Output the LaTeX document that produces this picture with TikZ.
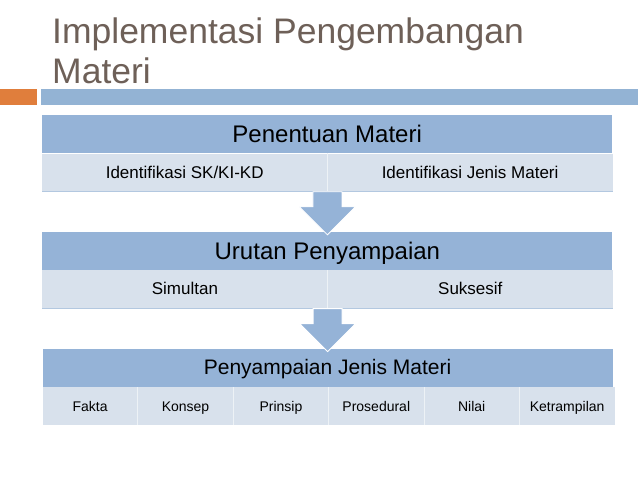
\documentclass[tikz,border=0pt]{standalone}
\usepackage{fontspec}
\setmainfont{Liberation Sans}
\usepackage{tikz}
\usetikzlibrary{positioning,calc}
\usepackage{xcolor}
\definecolor{headblue}{HTML}{95B3D7}
\definecolor{subblue}{HTML}{D8E1EC}
\definecolor{titlegray}{HTML}{6E6058}
\definecolor{barorange}{HTML}{E07E3C}
\definecolor{barblue}{HTML}{93B3D4}

\begin{document}
\begin{tikzpicture}[
x=1pt,y=-1pt,
titletext/.style={anchor=base west,inner sep=0,text=titlegray,font=\fontsize{35.5}{40}\selectfont},
head/.style={rectangle,fill=headblue,minimum width=570pt,minimum height=38pt,inner sep=0,text height=17pt,text depth=1pt,font=\fontsize{24}{28}\selectfont},
cell/.style={rectangle,fill=subblue,minimum height=38pt,inner sep=0,text height=12pt,text depth=1pt,font=\fontsize{17}{20}\selectfont},
half/.style={cell,minimum width=285pt},
sixth/.style={cell,minimum width=95pt,text height=11pt,font=\fontsize{14}{17}\selectfont},
sep/.style={draw=white!55!subblue,line width=0.8pt},
edge/.style={draw=headblue!55!subblue,line width=0.7pt},
blockarr/.style={fill=headblue,draw=white,line width=0.8pt}
]
\useasboundingbox (0,0) rectangle (638,479);

% title and bars
\node[titletext] (title) at (52,43) {Implementasi Pengembangan};
\node[titletext] (title2) at ([yshift=-40pt]title.base west) {Materi};
\fill[barorange] (0,89) rectangle (37,105);
\fill[barblue] (41,89) rectangle (638,105);

% first block
\node[head,anchor=north west] (penentuan) at (42,115) {Penentuan Materi};
\node[half,below right=0pt and 0pt of penentuan.south west] (skkikd) {Identifikasi SK/KI-KD};
\node[half,right=0pt of skkikd] (jenis) {Identifikasi Jenis Materi};
\draw[sep] (skkikd.north east) -- (skkikd.south east);
\draw[edge] (skkikd.south west) -- (jenis.south east);

% second block
\node[head,below=40pt of skkikd.south east] (urutan) {Urutan Penyampaian};
\node[half,below right=0pt and 0pt of urutan.south west] (simultan) {Simultan};
\node[half,right=0pt of simultan] (suksesif) {Suksesif};
\draw[sep] (simultan.north east) -- (simultan.south east);
\draw[edge] (simultan.south west) -- (suksesif.south east);

% third block
\node[head,below=40pt of simultan.south east,text height=15pt,font=\fontsize{21}{25}\selectfont] (penyampaian) {Penyampaian Jenis Materi};
\node[sixth,below right=0pt and 0pt of penyampaian.south west] (fakta) {Fakta};
\node[sixth,right=0pt of fakta] (konsep) {Konsep};
\node[sixth,right=0pt of konsep] (prinsip) {Prinsip};
\node[sixth,right=0pt of prinsip] (prosedural) {Prosedural};
\node[sixth,right=0pt of prosedural] (nilai) {Nilai};
\node[sixth,right=0pt of nilai] (ketrampilan) {Ketrampilan};
\foreach \c in {fakta,konsep,prinsip,prosedural,nilai}
  \draw[sep] (\c.north east) -- (\c.south east);

% block arrows between the blocks
\foreach \a/\b in {skkikd/urutan,simultan/penyampaian}
  \filldraw[blockarr] let \p1=(\a.south east), \p2=(\b.north) in
    (\x1-14.5pt,\y1) -- (\x1+14.5pt,\y1) -- (\x1+14.5pt,\y2+25pt) -- (\x1+28pt,\y2+25pt)
    -- (\x1,\y2-3pt) -- (\x1-28pt,\y2+25pt) -- (\x1-14.5pt,\y2+25pt) -- cycle;
\end{tikzpicture}
\end{document}
